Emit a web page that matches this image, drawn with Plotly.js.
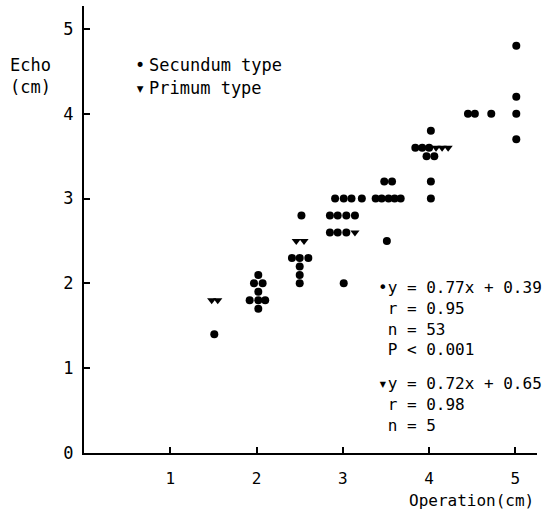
<!DOCTYPE html>
<html>
<head>
<meta charset="utf-8">
<script src="https://cdn.plot.ly/plotly-3.0.1.min.js"></script>
<style>html,body{margin:0;padding:0;background:#fff;}#chart{width:557px;height:516px;}</style>
</head>
<body>
<div id="chart"></div>
<script>
// Secundum type (filled circles): operation (cm, as plotted with display spread) vs echo (cm)
const secundumX = [1.51,
  2.02, 1.97, 2.07, 2.02, 1.92, 2.02, 2.10, 2.02,
  2.52, 2.41, 2.50, 2.60, 2.50, 2.50, 2.50,
  2.91, 3.01, 3.10, 3.22, 2.85, 2.94, 3.04, 3.14, 2.85, 2.94, 3.04, 3.01,
  3.48, 3.57, 3.38, 3.45, 3.53, 3.60, 3.67, 3.51,
  4.02, 3.84, 3.92, 4.00, 3.97, 4.06, 4.02, 4.02,
  4.45, 4.53, 4.72,
  5.01, 5.01, 5.01, 5.01];
const secundumY = [1.4,
  2.1, 2.0, 2.0, 1.9, 1.8, 1.8, 1.8, 1.7,
  2.8, 2.3, 2.3, 2.3, 2.2, 2.1, 2.0,
  3.0, 3.0, 3.0, 3.0, 2.8, 2.8, 2.8, 2.8, 2.6, 2.6, 2.6, 2.0,
  3.2, 3.2, 3.0, 3.0, 3.0, 3.0, 3.0, 2.5,
  3.8, 3.6, 3.6, 3.6, 3.5, 3.5, 3.2, 3.0,
  4.0, 4.0, 4.0,
  4.8, 4.2, 4.0, 3.7];
// Primum type (filled down-triangles)
const primumX = [1.48, 1.55, 2.46, 2.55, 3.14, 4.08, 4.15, 4.22];
const primumY = [1.8, 1.8, 2.5, 2.5, 2.6, 3.6, 3.6, 3.6];

const xTicks = [1, 2, 3, 4, 5];
const yTicks = [0, 1, 2, 3, 4, 5];

const legendLabels = ["Secundum type", "Primum type"];
const statsSecundum = ["•y = 0.77x + 0.39", " r = 0.95", " n = 53", " P < 0.001"];
const statsPrimum = ["▾y = 0.72x + 0.65", " r = 0.98", " n = 5"];
const xTitle = "Operation(cm)";
const yTitle = ["Echo", "(cm)"];

const FONT = "DejaVu Sans Mono, Liberation Mono, monospace";

const traces = [
  {x: secundumX, y: secundumY, type: "scatter", mode: "markers", name: legendLabels[0],
   marker: {symbol: "circle", size: 8, color: "#000"}, cliponaxis: false},
  {x: primumX, y: primumY, type: "scatter", mode: "markers", name: legendLabels[1],
   marker: {symbol: "triangle-down", size: 8, color: "#000"}, cliponaxis: false}
];

function ann(text, x, y, size, xanchor, yanchor) {
  return {text: text, x: x, y: y, xref: "paper", yref: "paper", showarrow: false,
    xanchor: xanchor || "left", yanchor: yanchor || "middle", align: "left",
    font: {family: FONT, size: size, color: "#000"}};
}

const layout = {
  width: 557, height: 516,
  margin: {l: 84, r: 20, t: 6, b: 63},
  paper_bgcolor: "#fff", plot_bgcolor: "#fff",
  showlegend: false,
  xaxis: {range: [0, 5.25], tickvals: xTicks, ticktext: xTicks.map(String),
    showline: true, linecolor: "#000", linewidth: 2, ticks: "inside", ticklen: 6,
    tickwidth: 2, tickcolor: "#000", showgrid: false, zeroline: false,
    ticklabelstandoff: 10, tickfont: {family: FONT, size: 16, color: "#000"}},
  yaxis: {range: [0, 5.27], tickvals: yTicks, ticktext: yTicks.map(String),
    showline: true, linecolor: "#000", linewidth: 2, ticks: "inside", ticklen: 6,
    tickwidth: 2, tickcolor: "#000", showgrid: false, zeroline: false,
    ticklabelstandoff: 5, tickfont: {family: FONT, size: 17, color: "#000"}},
  annotations: [
    ann(yTitle.join("<br>"), -0.117, 0.843, 17, "center", "middle"),
    ann("•", 0.1236, 0.868, 17, "center"),
    ann(legendLabels[0], 0.139, 0.868, 17),
    ann("▾", 0.1236, 0.8166, 17, "center"),
    ann(legendLabels[1], 0.139, 0.8166, 17),
    ann(statsSecundum.join("<br>"), 0.645, 0.301, 16),
    ann(statsPrimum.join("<br>"), 0.645, 0.1096, 16),
    ann(xTitle, 0.998, -0.106, 16, "right")
  ]
};

Plotly.newPlot("chart", traces, layout, {displayModeBar: false, staticPlot: true});
</script>
</body>
</html>
